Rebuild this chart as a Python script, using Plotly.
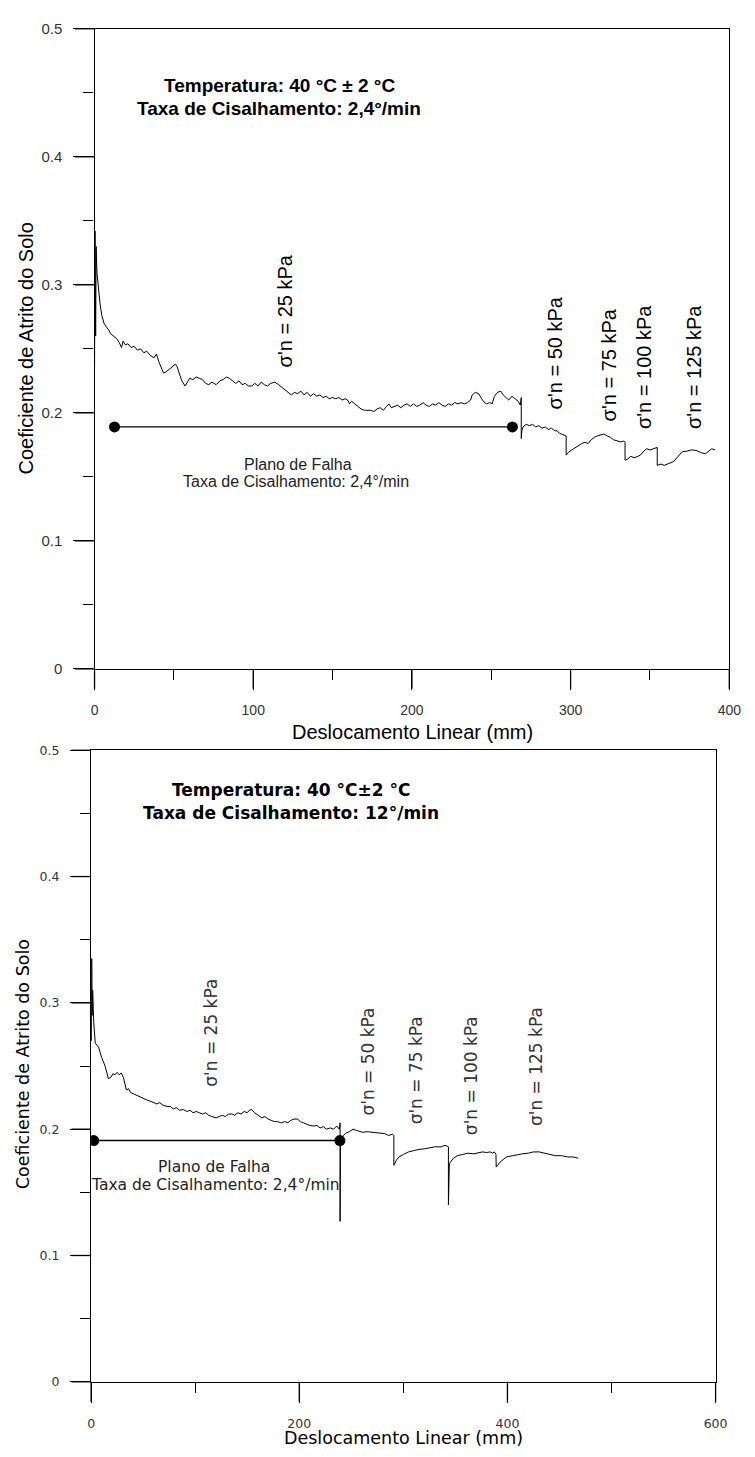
import plotly.graph_objects as go

W, H = 755, 1457


def px(x):
    return x / W


def py(y):
    return 1 - y / H


# ---------------- data: top chart (2,4°/min) ----------------
top_x = [0, 0.3, 0.7, 1.0, 1.5, 2.5, 3.5, 4.6, 6, 7.5, 8.8, 10, 12, 13.9, 15.5, 17, 18, 19.5, 21, 23, 25, 27, 29,
         31, 33, 35, 37.5, 39, 40.5, 42, 43.5, 45, 47, 49, 51, 52, 53.5, 55, 57, 58.5, 60, 62, 64, 66, 68, 70, 72,
         74, 76.6, 79, 81, 83, 85, 87, 89, 91, 93, 95, 97, 99, 101, 103, 105, 107, 109, 111, 113.6, 116, 118, 120,
         122, 124, 126, 128, 130, 132, 134, 136, 138, 140, 142, 144, 146, 148, 150, 152, 154, 156, 158, 159.5,
         160.7, 162, 164, 166, 168, 170, 172, 174, 176, 178, 180, 182, 184, 185.5, 187, 189, 191, 193, 195, 197,
         199, 201, 203, 205, 207, 209, 211, 213, 215, 217, 219, 221, 223, 225, 227, 229, 231, 233, 235, 237, 238,
         240, 242, 243.5, 245, 247, 249, 250.5, 252, 254, 256, 257.5, 259, 261, 263, 265, 267, 268.3, 268.9,
         268.9, 269.3, 270, 272, 274, 276, 278, 280, 282, 284, 286, 288, 290, 291.5, 293, 295, 296.5, 297.2,
         297.2, 298.5, 300.7, 302, 304, 307, 309, 311, 313, 315, 317, 319, 321, 323, 325, 327, 329, 331.6, 333.5,
         334.3, 334.3, 336, 338, 340, 342, 344, 346, 348, 350, 353, 354.6, 354.6, 357, 359, 362.4, 365, 367, 369,
         370.5, 373, 376, 379, 382, 385, 387, 389, 391]
top_y = [0.235, 0.342, 0.26, 0.33, 0.31, 0.297, 0.285, 0.276, 0.270, 0.267, 0.265, 0.262, 0.260, 0.258, 0.255,
         0.251, 0.256, 0.253, 0.254, 0.251, 0.252, 0.249, 0.250, 0.247, 0.248, 0.245, 0.243, 0.246, 0.240, 0.235,
         0.231, 0.232, 0.234, 0.236, 0.238, 0.236, 0.230, 0.225, 0.221, 0.224, 0.227, 0.226, 0.228, 0.227, 0.226,
         0.223, 0.222, 0.224, 0.222, 0.225, 0.226, 0.228, 0.227, 0.225, 0.223, 0.225, 0.222, 0.223, 0.221, 0.221,
         0.223, 0.221, 0.224, 0.222, 0.221, 0.223, 0.224, 0.222, 0.220, 0.218, 0.216, 0.214, 0.216, 0.215, 0.217,
         0.214, 0.216, 0.213, 0.215, 0.213, 0.214, 0.212, 0.213, 0.211, 0.212, 0.211, 0.212, 0.210, 0.211, 0.210,
         0.207, 0.209, 0.207, 0.205, 0.203, 0.202, 0.202, 0.202, 0.201, 0.203, 0.204, 0.202, 0.205, 0.207, 0.204,
         0.205, 0.206, 0.204, 0.206, 0.207, 0.205, 0.207, 0.205, 0.206, 0.208, 0.206, 0.205, 0.207, 0.206, 0.208,
         0.206, 0.205, 0.207, 0.206, 0.208, 0.207, 0.208, 0.207, 0.208, 0.210, 0.214, 0.216, 0.215, 0.212, 0.209,
         0.207, 0.208, 0.207, 0.213, 0.216, 0.217, 0.214, 0.212, 0.210, 0.213, 0.211, 0.209, 0.206, 0.212,
         0.180, 0.186, 0.189, 0.191, 0.190, 0.191, 0.189, 0.190, 0.188, 0.189, 0.187, 0.188, 0.186, 0.186, 0.184,
         0.183, 0.182, 0.182, 0.167, 0.169, 0.171, 0.172, 0.174, 0.176, 0.177, 0.176, 0.179, 0.181, 0.182, 0.183,
         0.1835, 0.182, 0.181, 0.179, 0.178, 0.1773, 0.178, 0.177, 0.163, 0.164, 0.166, 0.165, 0.1658, 0.167,
         0.170, 0.172, 0.171, 0.172, 0.173, 0.159, 0.160, 0.159, 0.1604, 0.162, 0.165, 0.168, 0.1697, 0.170, 0.171,
         0.1707, 0.169, 0.168, 0.170, 0.172, 0.171]

top_fail_x = [12.6, 263.3]
top_fail_y = [0.189, 0.189]

top_sigma_text = ["σ'n = 25 kPa", "σ'n = 50 kPa", "σ'n = 75 kPa", "σ'n = 100 kPa", "σ'n = 125 kPa"]
top_sigma_x = [120, 290, 324, 345.8, 377.9]
top_sigma_y = [0.280, 0.247, 0.2376, 0.236, 0.236]

# ---------------- data: bottom chart (12°/min) ----------------
bot_x = [0.3, 0.6, 1.0, 1.5, 2.5, 4, 7.2, 10, 13.4, 16.6, 19, 21, 22.9, 25, 27, 29, 31, 33.9, 36, 38, 41.7, 45,
         48, 51, 54, 57.4, 60, 63, 66, 69, 73, 76, 79, 82, 85, 88.7, 92, 95, 98, 101, 104, 107, 110, 113, 116,
         120, 123, 126, 129, 132, 135.5, 138, 141, 144, 147, 150, 152, 154.5, 157, 160, 164, 167, 170, 173, 176,
         179, 182.7, 186, 189, 192, 195, 198.4, 201, 204, 207, 210, 214, 217, 220, 223, 226, 229.8, 233, 236,
         238.5, 239.2, 239.2, 239.6, 242.3, 245, 248, 251.7, 255, 258, 261, 265, 270, 274, 278, 282, 286, 289.4,
         290.9, 290.9, 293, 295.6, 300, 305, 310, 315, 320.7, 325, 330, 336.4, 339, 341, 343.3, 343.3, 343.6,
         344.2, 348, 352, 357, 362, 367.7, 372, 376, 380, 383.4, 386, 387.5, 389, 389.2, 393, 399, 405, 410,
         414.7, 420, 425, 430.5, 435, 440, 446, 452, 458, 463, 468]
bot_y = [0.27, 0.335, 0.29, 0.31, 0.285, 0.268, 0.265, 0.257, 0.250, 0.240, 0.241, 0.244, 0.243, 0.245, 0.243,
         0.2445, 0.241, 0.231, 0.232, 0.229, 0.2275, 0.226, 0.225, 0.224, 0.223, 0.222, 0.221, 0.220, 0.221,
         0.219, 0.218, 0.218, 0.216, 0.217, 0.215, 0.2155, 0.214, 0.215, 0.213, 0.214, 0.213, 0.212, 0.213,
         0.211, 0.210, 0.209, 0.210, 0.211, 0.210, 0.212, 0.212, 0.211, 0.213, 0.212, 0.214, 0.213, 0.215,
         0.2155, 0.213, 0.211, 0.209, 0.210, 0.208, 0.207, 0.206, 0.206, 0.205, 0.206, 0.205, 0.207, 0.208,
         0.208, 0.206, 0.205, 0.204, 0.203, 0.2025, 0.203, 0.201, 0.202, 0.200, 0.201, 0.200, 0.2025, 0.200,
         0.205, 0.127, 0.190, 0.195, 0.197, 0.198, 0.200, 0.199, 0.198, 0.1975, 0.198, 0.1975, 0.1975, 0.197,
         0.1965, 0.195, 0.196, 0.195, 0.1714, 0.175, 0.178, 0.180, 0.182, 0.183, 0.184, 0.1845, 0.185, 0.186,
         0.186, 0.187, 0.187, 0.186, 0.140, 0.170, 0.1727, 0.177, 0.179, 0.180, 0.181, 0.1805, 0.181, 0.182,
         0.1815, 0.182, 0.181, 0.182, 0.180, 0.170, 0.174, 0.178, 0.179, 0.180, 0.1805, 0.181, 0.182, 0.182,
         0.181, 0.180, 0.179, 0.179, 0.178, 0.178, 0.177]

bot_fail_x = [2.5, 239.0]
bot_fail_y = [0.191, 0.191]

bot_sigma_text = ["σ'n = 25 kPa", "σ'n = 50 kPa", "σ'n = 75 kPa", "σ'n = 100 kPa", "σ'n = 125 kPa"]
bot_sigma_x = [115.7, 266, 313, 365, 427]
bot_sigma_y = [0.276, 0.2535, 0.2465, 0.242, 0.2496]

# tick spacing / positions
top_x_step, top_x_minor = 100, 50
bot_x_step, bot_x_minor = 200, 100
y_step, y_minor = 0.1, 0.05
top_major_x = [0, 100, 200, 300, 400]
bot_major_x = [0, 200, 400, 600]
major_y = [0, 0.1, 0.2, 0.3, 0.4, 0.5]

ARIAL = "Liberation Sans, Arial, sans-serif"
VERD = "DejaVu Sans, Verdana, sans-serif"

# subplot geometry (paper fractions)
TOP_XD = [px(92.5), px(741)]
TOP_YD = [py(667.7), py(20)]
BOT_XD = [px(89), px(727)]
BOT_YD = [py(1389), py(750)]
TOP_XR, BOT_XR, Y_R = [0, 400], [0, 600], [0, 0.5]
MAJOR_LEN = 20

fig = go.Figure()
fig.add_trace(go.Scatter(x=top_x, y=top_y, mode="lines", line=dict(color="black", width=1),
                         xaxis="x", yaxis="y", hoverinfo="skip"))
fig.add_trace(go.Scatter(x=top_fail_x, y=top_fail_y, mode="lines+markers",
                         line=dict(color="black", width=1.2), marker=dict(size=11, color="black"),
                         xaxis="x", yaxis="y"))
fig.add_trace(go.Scatter(x=bot_x, y=bot_y, mode="lines", line=dict(color="black", width=1),
                         xaxis="x2", yaxis="y2", hoverinfo="skip"))
fig.add_trace(go.Scatter(x=bot_fail_x, y=bot_fail_y, mode="lines+markers",
                         line=dict(color="black", width=1.5), marker=dict(size=11, color="black"),
                         xaxis="x2", yaxis="y2"))


def axis(font_family, font_size, step, mstep, rng, standoff):
    return dict(showline=True, linecolor="black", linewidth=1.3, mirror=True,
                ticks="outside", ticklen=MAJOR_LEN, tickwidth=1.3, tickcolor="black",
                tick0=0, dtick=step, range=rng, ticklabelstandoff=standoff,
                showgrid=False, zeroline=False,
                tickfont=dict(family=font_family, size=font_size, color="#333"),
                minor=dict(tick0=0, dtick=mstep, ticks="outside", ticklen=10, tickwidth=1.3,
                           tickcolor="black", showgrid=False))


xa = axis(ARIAL, 14, top_x_step, top_x_minor, TOP_XR, 8)
xa.update(domain=TOP_XD, anchor="y")
ya = axis(ARIAL, 15, y_step, y_minor, Y_R, 8)
ya.update(domain=TOP_YD, anchor="x")
xa2 = axis(VERD, 12.5, bot_x_step, bot_x_minor, BOT_XR, 10)
xa2.update(domain=BOT_XD, anchor="y2")
ya2 = axis(VERD, 12.5, y_step, y_minor, Y_R, 8)
ya2.update(domain=BOT_YD, anchor="x2")


# long (major) tick marks, placed from the tick value lists through each axis' domain/range
def scale(v, rng, dom):
    return dom[0] + (v - rng[0]) / (rng[1] - rng[0]) * (dom[1] - dom[0])


shapes = []
tick_line = dict(color="black", width=1.3)
for xvals, xr, xd, yd in [(top_major_x, TOP_XR, TOP_XD, TOP_YD), (bot_major_x, BOT_XR, BOT_XD, BOT_YD)]:
    for v in xvals:
        xp = scale(v, xr, xd)
        shapes.append(dict(type="line", xref="paper", yref="paper", x0=xp, x1=xp,
                           y0=yd[0], y1=yd[0] - MAJOR_LEN / H, line=tick_line))
    for v in major_y:
        yp = scale(v, Y_R, yd)
        shapes.append(dict(type="line", xref="paper", yref="paper", x0=xd[0] - MAJOR_LEN / W, x1=xd[0],
                           y0=yp, y1=yp, line=tick_line))

annotations = []


def note(xref, yref, x, y, text, family, size, color="black", angle=0):
    annotations.append(dict(xref=xref, yref=yref, x=x, y=y, text=text, textangle=angle, showarrow=False,
                            xanchor="center", yanchor="middle",
                            font=dict(family=family, size=size, color=color)))


# top chart
note("x", "y", 116.3, 0.456, "<b>Temperatura: 40 °C ± 2 °C</b>", ARIAL, 19)
note("x", "y", 116.3, 0.438, "<b>Taxa de Cisalhamento: 2,4°/min</b>", ARIAL, 19)
for t, x, y in zip(top_sigma_text, top_sigma_x, top_sigma_y):
    note("x", "y", x, y, t, ARIAL, 20, angle=-90)
note("x", "y", 128, 0.160, "Plano de Falha", ARIAL, 16, "#222")
note("x", "y", 126.7, 0.1465, "Taxa de Cisalhamento: 2,4°/min", ARIAL, 16, "#222")
note("paper", "paper", px(417), py(732), "Deslocamento Linear (mm)", ARIAL, 20)
note("paper", "paper", px(22), py(344), "Coeficiente de Atrito do Solo", ARIAL, 20, angle=-90)

# bottom chart
note("x2", "y2", 192, 0.4687, "<b>Temperatura: 40 °C±2 °C</b>", VERD, 17)
note("x2", "y2", 192, 0.4507, "<b>Taxa de Cisalhamento: 12°/min</b>", VERD, 17)
for t, x, y in zip(bot_sigma_text, bot_sigma_x, bot_sigma_y):
    note("x2", "y2", x, y, t, VERD, 17, "#333", angle=-90)
note("x2", "y2", 118.5, 0.170, "Plano de Falha", VERD, 15.5, "#222")
note("x2", "y2", 119.4, 0.1557, "Taxa de Cisalhamento: 2,4°/min", VERD, 15.5, "#222")
note("paper", "paper", px(408), py(1446), "Deslocamento Linear (mm)", VERD, 17.5)
note("paper", "paper", px(19), py(1068), "Coeficiente de Atrito do Solo", VERD, 17.5, angle=-90)

fig.update_layout(width=W, height=H, margin=dict(l=0, r=0, t=0, b=0), autosize=False,
                  paper_bgcolor="white", plot_bgcolor="white", showlegend=False,
                  xaxis=xa, yaxis=ya, xaxis2=xa2, yaxis2=ya2,
                  shapes=shapes, annotations=annotations)

fig.write_html("out.html", config={"displayModeBar": False},
               post_script="document.body.style.margin='0';document.body.style.overflow='hidden';")
